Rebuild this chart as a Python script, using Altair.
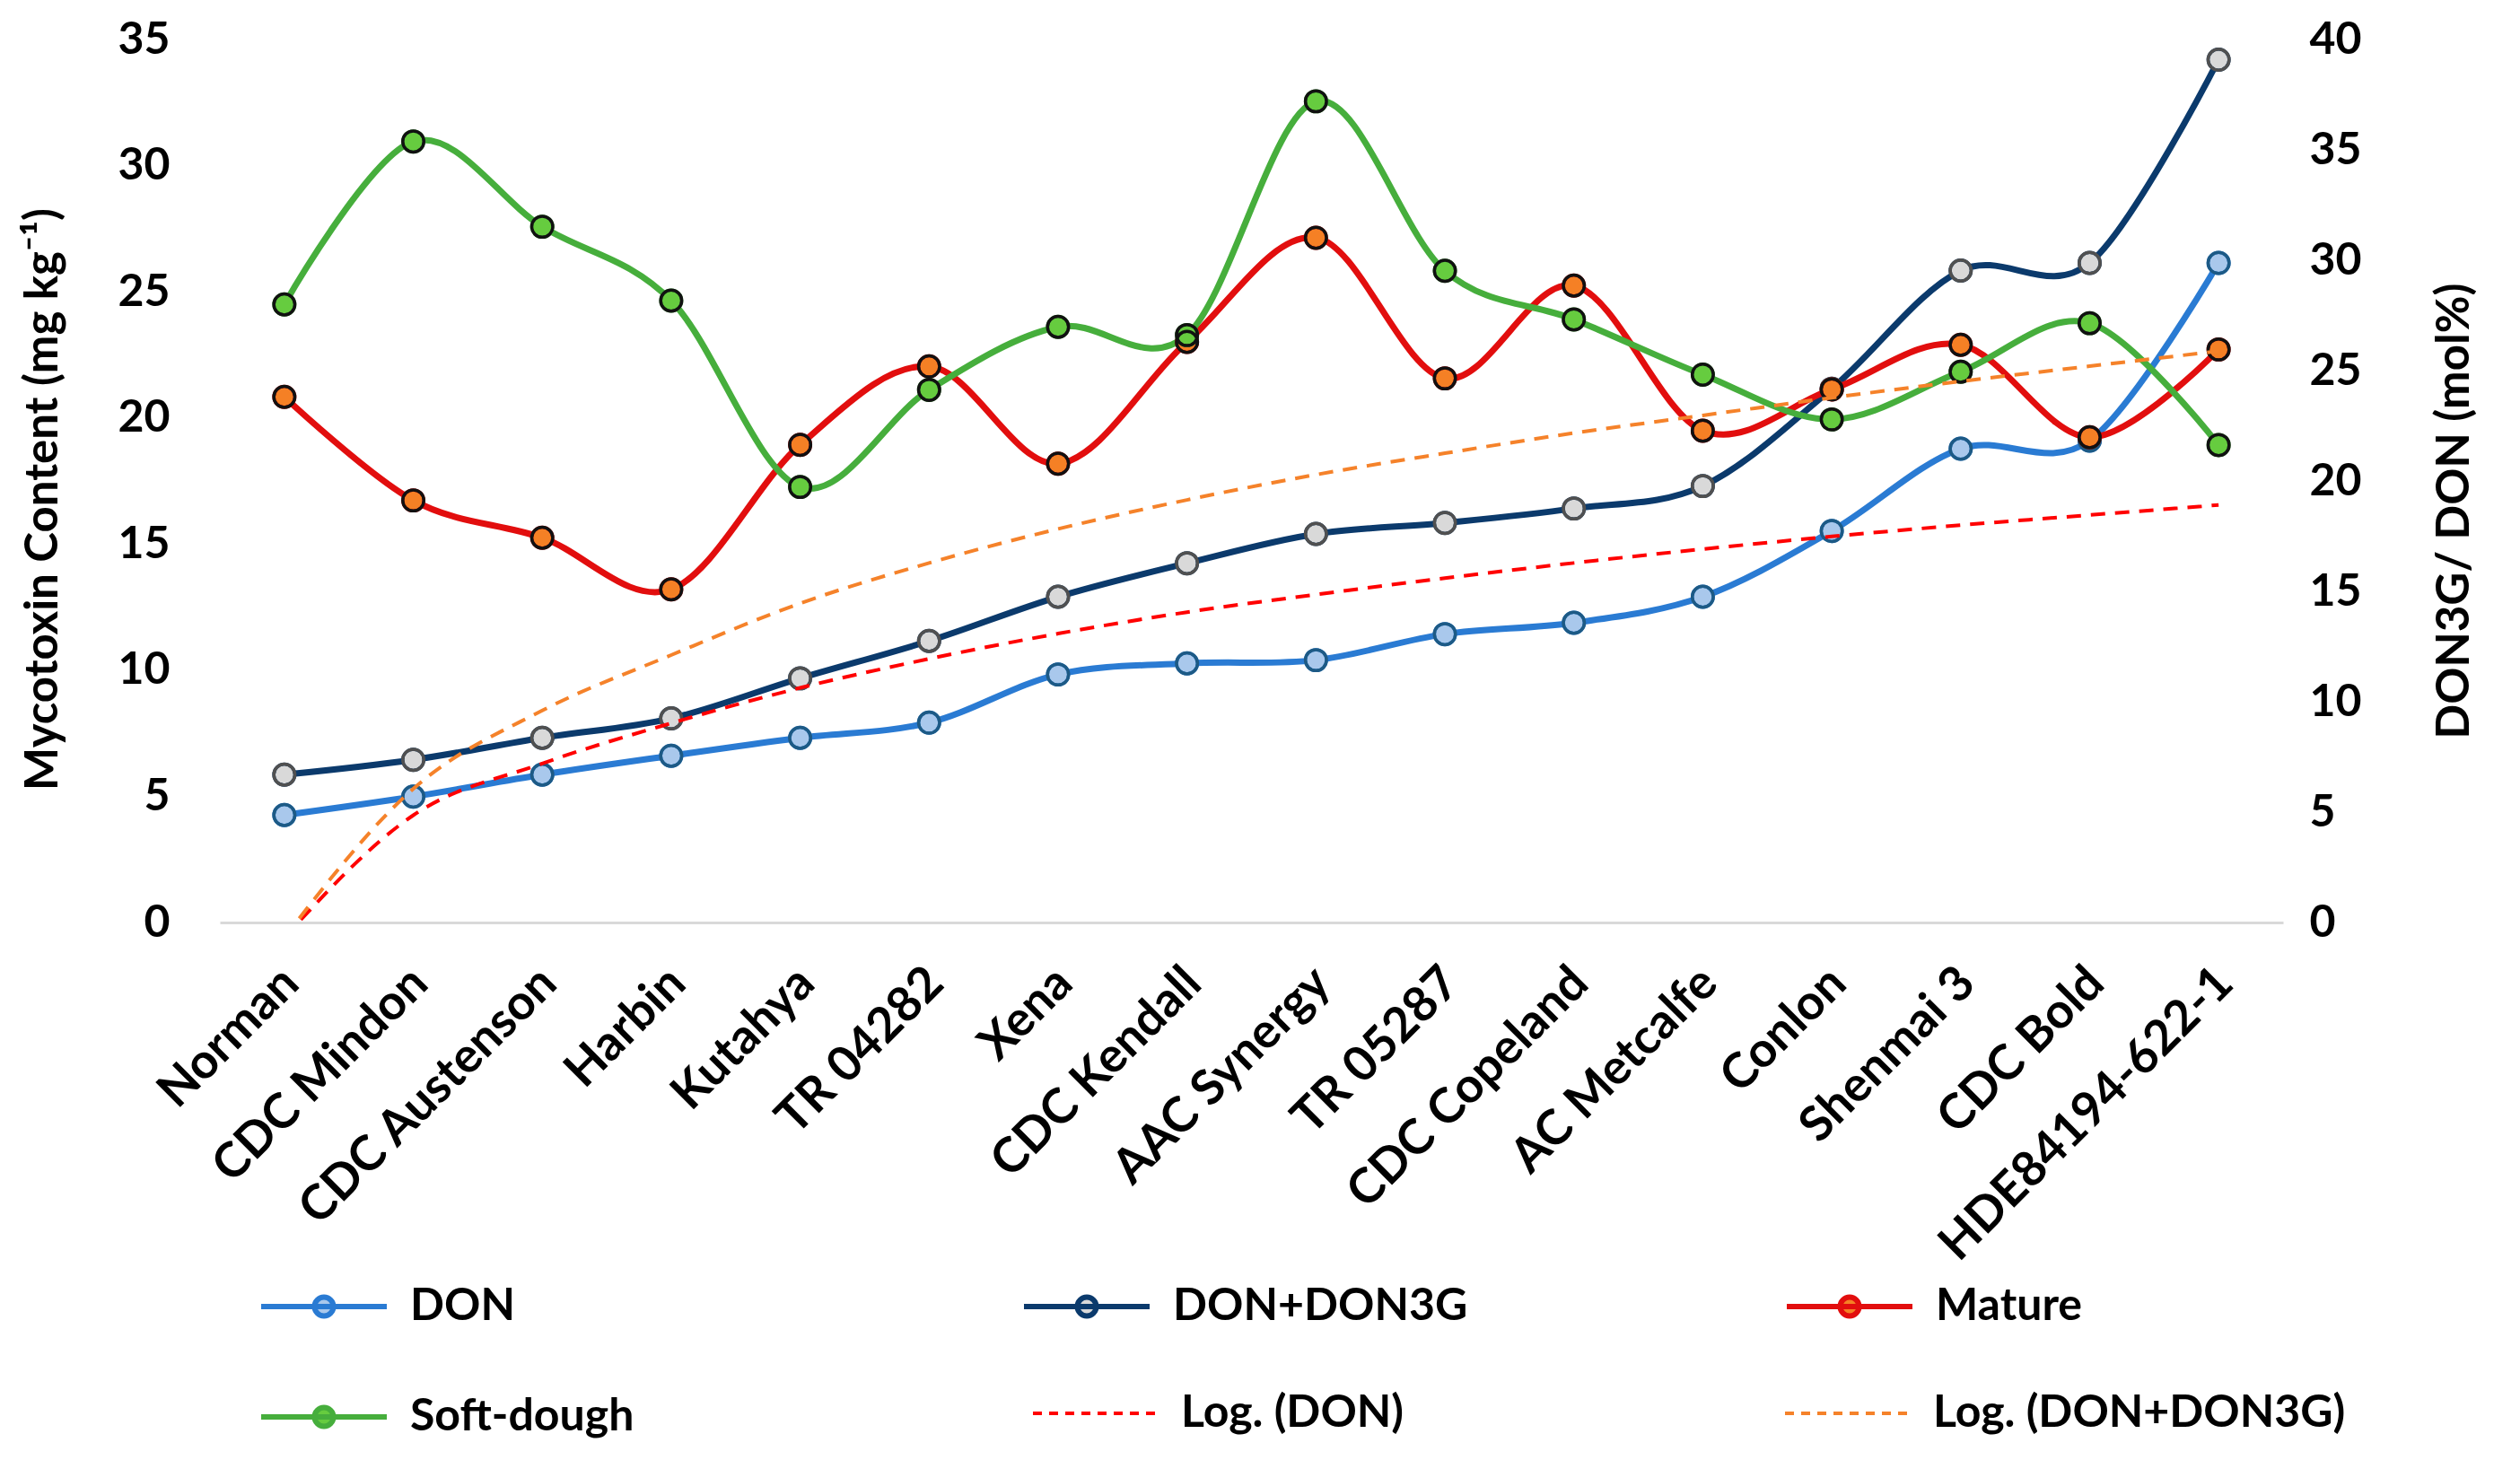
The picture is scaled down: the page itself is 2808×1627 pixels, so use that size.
import altair as alt
import pandas as pd

FONT = "Lato"

categories = ["Norman", "CDC Mindon", "CDC Austenson", "Harbin", "Kutahya", "TR 04282",
              "Xena", "CDC Kendall", "AAC Synergy", "TR 05287", "CDC Copeland",
              "AC Metcalfe", "Conlon", "Shenmai 3", "CDC Bold", "HDE84194-622-1"]

don = [4.26, 4.99, 5.86, 6.61, 7.32, 7.92, 9.83, 10.27, 10.40, 11.43, 11.88, 12.91,
       15.52, 18.78, 19.10, 26.14]
don_don3g = [5.86, 6.45, 7.32, 8.09, 9.68, 11.16, 12.91, 14.24, 15.40, 15.84, 16.41,
             17.30, 21.16, 25.84, 26.14, 34.20]
mature = [23.81, 19.12, 17.43, 15.09, 21.64, 25.19, 20.78, 26.30, 31.02, 24.65, 28.85,
          22.28, 24.15, 26.17, 21.98, 25.96]
soft_dough = [28.00, 35.38, 31.52, 28.17, 19.73, 24.13, 26.98, 26.61, 37.20, 29.52,
              27.32, 24.82, 22.79, 24.95, 27.15, 21.63]
log_don = [-0.6, 4.25, 6.3, 7.9, 9.3, 10.45, 11.45, 12.3, 13.0, 13.65, 14.25, 14.8,
           15.3, 15.75, 16.15, 16.55]
log_don_don3g = [-0.6, 5.3, 8.4, 10.6, 12.65, 14.25, 15.6, 16.75, 17.75, 18.6, 19.4,
                 20.1, 20.8, 21.45, 22.05, 22.65]

series_names = ["DON", "DON+DON3G", "Mature", "Soft-dough"]
trend_names = ["Log. (DON)", "Log. (DON+DON3G)"]

line_colors = ["#2A7BD3", "#0B3A6C", "#E20E0E", "#46AE3C"]
fill_colors = ["#A9C8EC", "#D9D9D9", "#F58025", "#66CC3F"]
border_colors = ["#1D5A85", "#505050", "#111111", "#111111"]
trend_colors = ["#FF0000", "#F5822A"]


def to_long(names, arrays):
    rows = []
    for n, arr in zip(names, arrays):
        for c, v in zip(categories, arr):
            rows.append({"category": c, "series": n, "value": v})
    return pd.DataFrame(rows)


left_df = to_long(series_names[:2], [don, don_don3g])
right_df = to_long(series_names[2:], [mature, soft_dough])
trend_df = to_long(trend_names, [log_don, log_don_don3g])

x_enc = alt.X(
    "category:N", sort=categories,
    scale=alt.Scale(type="point", padding=0.5),
    axis=alt.Axis(title=None, labelAngle=-45, labelFont=FONT, labelFontSize=54,
                  labelFontWeight="bold", labelColor="#000000", labelPadding=40,
                  labelOffset=-12, labelLimit=2000, domainColor="#D9D9D9", domainWidth=3,
                  ticks=False, grid=False),
)

y_left = alt.Y(
    "value:Q", scale=alt.Scale(domain=[0, 35], nice=False),
    axis=alt.Axis(orient="left", title="Mycotoxin Content (mg kg⁻¹)",
                  values=[0, 5, 10, 15, 20, 25, 30, 35], grid=False, domain=False,
                  ticks=False, labelPadding=56, labelFont=FONT, labelFontSize=50,
                  labelFontWeight="bold", labelColor="#000000", titleFont=FONT,
                  titleFontSize=51, titleFontWeight="bold", titleColor="#000000",
                  titlePadding=56, titleY=512),
)

y_right = alt.Y(
    "value:Q", scale=alt.Scale(domain=[0, 40], nice=False),
    axis=alt.Axis(orient="right", title="DON3G/ DON (mol%)",
                  values=[0, 5, 10, 15, 20, 25, 30, 35, 40], grid=False, domain=False,
                  ticks=False, labelPadding=29, labelFont=FONT, labelFontSize=50,
                  labelFontWeight="bold", labelColor="#000000", titleFont=FONT,
                  titleFontSize=51, titleFontWeight="bold", titleColor="#000000",
                  titlePadding=130, titleAngle=270, titleY=525),
)

y_trend = alt.Y("value:Q", scale=alt.Scale(domain=[0, 35], nice=False), axis=None)

legend_path = "M-1,0L1,0M0.15,0A0.15,0.15,0,1,1,-0.15,0A0.15,0.15,0,1,1,0.15,0Z"

series_legend = alt.Legend(
    title=None, orient="none", legendX=43, legendY=1339, columns=3, direction="horizontal",
    gridAlign="all", columnPadding=343, rowPadding=25, symbolType=legend_path,
    symbolSize=19600, symbolStrokeWidth=6, labelFont=FONT, labelFontSize=50,
    labelFontWeight="bold", labelColor="#000000", labelOffset=23, padding=0,
    labelLimit=2000,
)

trend_legend = alt.Legend(
    title=None, orient="none", legendX=904, legendY=1459, columns=2, direction="horizontal",
    gridAlign="all", columnPadding=205, symbolType="stroke", symbolSize=19600,
    symbolStrokeWidth=4, symbolDash=[10, 8], labelFont=FONT, labelFontSize=50,
    labelFontWeight="bold", labelColor="#000000", labelOffset=23, padding=0,
    labelLimit=2000,
)

stroke_enc = alt.Stroke("series:N", scale=alt.Scale(domain=series_names, range=line_colors),
                        legend=series_legend)
fill_enc = alt.Fill("series:N", scale=alt.Scale(domain=series_names, range=fill_colors),
                    legend=series_legend)

MSIZE = 550
MSW = 3.5


def series_group(df, y_enc, names):
    lines = alt.Chart(df).mark_line(interpolate="cardinal", strokeWidth=7).encode(
        x=x_enc, y=y_enc, stroke=stroke_enc)
    points = alt.Chart(df).mark_point(filled=True, size=MSIZE, strokeWidth=MSW, opacity=1).encode(
        x=x_enc, y=y_enc, fill=fill_enc, stroke=stroke_enc)
    borders = []
    for name in names:
        col = border_colors[series_names.index(name)]
        borders.append(
            alt.Chart(df).transform_filter(alt.datum.series == name)
            .mark_point(filled=False, size=MSIZE, strokeWidth=MSW, color=col, opacity=1)
            .encode(x=x_enc, y=y_enc)
        )
    return alt.layer(lines, points, *borders)


left_layer = series_group(left_df, y_left, series_names[:2])
right_layer = series_group(right_df, y_right, series_names[2:])

trend_layer = alt.Chart(trend_df).mark_line(
    interpolate="monotone", strokeWidth=4, strokeDash=[16, 11], clip=True
).encode(
    x=x_enc, y=y_trend,
    color=alt.Color("series:N", scale=alt.Scale(domain=trend_names, range=trend_colors),
                    legend=trend_legend),
)

chart = alt.layer(left_layer, right_layer, trend_layer).resolve_scale(
    y="independent"
).properties(
    width=2299, height=984,
    padding={"left": 237, "top": 36, "right": 250, "bottom": 585},
    autosize=alt.AutoSizeParams(type="none"),
    background="white",
).configure_view(strokeWidth=0)

chart.save("out.html", embed_options={"renderer": "svg", "actions": False})
